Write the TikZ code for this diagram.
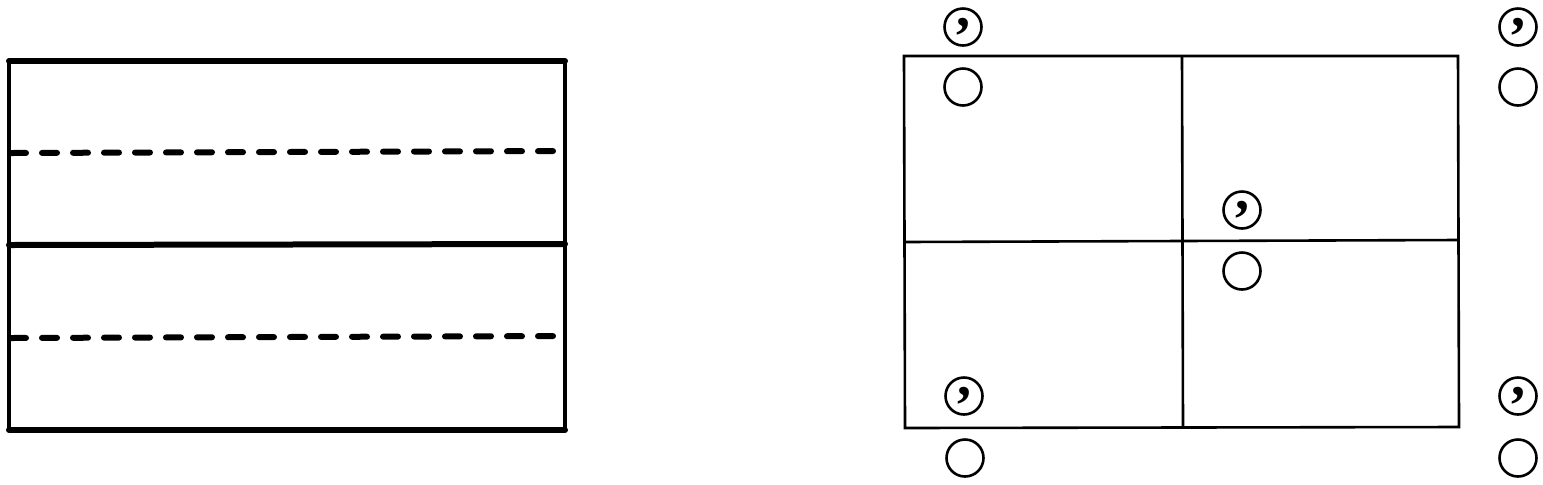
\documentclass[tikz,border=0pt]{standalone}
\usepackage{fontspec}
\usepackage{tikz}
\newfontfamily\tailfont{Liberation Serif}
\tikzset{
  heavy/.style={draw=black, line width=3pt, line cap=round},
  side/.style={draw=black, line width=1.8pt},
  cut/.style={draw=black, line width=3pt, line cap=round, dash pattern=on 7.5pt off 8pt},
  thin/.style={draw=black, line width=1.3pt},
  ring/.style={circle, draw=black, line width=1.3pt, minimum size=18.5pt, inner sep=0pt},
  tail/.style={ring, font=\tailfont\bfseries\fontsize{28}{28}\selectfont},
}

\begin{document}
\begin{tikzpicture}[x=0.5pt, y=-0.5pt]
  \useasboundingbox (0,0) rectangle (1543,484);
  % left panel
  \coordinate (LA) at (9,61);
  \coordinate (LB) at (565,61);
  \coordinate (LC) at (565,430);
  \coordinate (LD) at (9,430);
  \draw[side] (LA) -- (LD);
  \draw[side] (LB) -- (LC);
  \draw[heavy] (LA) -- (LB);
  \draw[heavy] (LD) -- (LC);
  \draw[heavy] (9,245) -- (565,244);
  \draw[cut] (11,153) -- (565,151);
  \draw[cut] (11,338) -- (565,336);
  % right panel
  \coordinate (RA) at (904,56);
  \coordinate (RB) at (1458,56);
  \coordinate (RC) at (1459,427);
  \coordinate (RD) at (905,428);
  \draw[thin] (RA) -- (RB) -- (RC) -- (RD) -- cycle;
  \draw[thin] (1182,56) -- (1183,427);
  \draw[thin] (904,242) -- (1458,240);
  % circles
  \foreach \n/\x/\y in {a/963/27, b/1518/27, c/1242/210, d/964/396, e/1518/396}
    \node[tail] (\n1) at (\x,\y) {,};
  \foreach \n/\x/\y in {a/963/87, b/1518/87, c/1242/271, d/965/458, e/1518/458}
    \node[ring] (\n2) at (\x,\y) {};
\end{tikzpicture}
\end{document}
